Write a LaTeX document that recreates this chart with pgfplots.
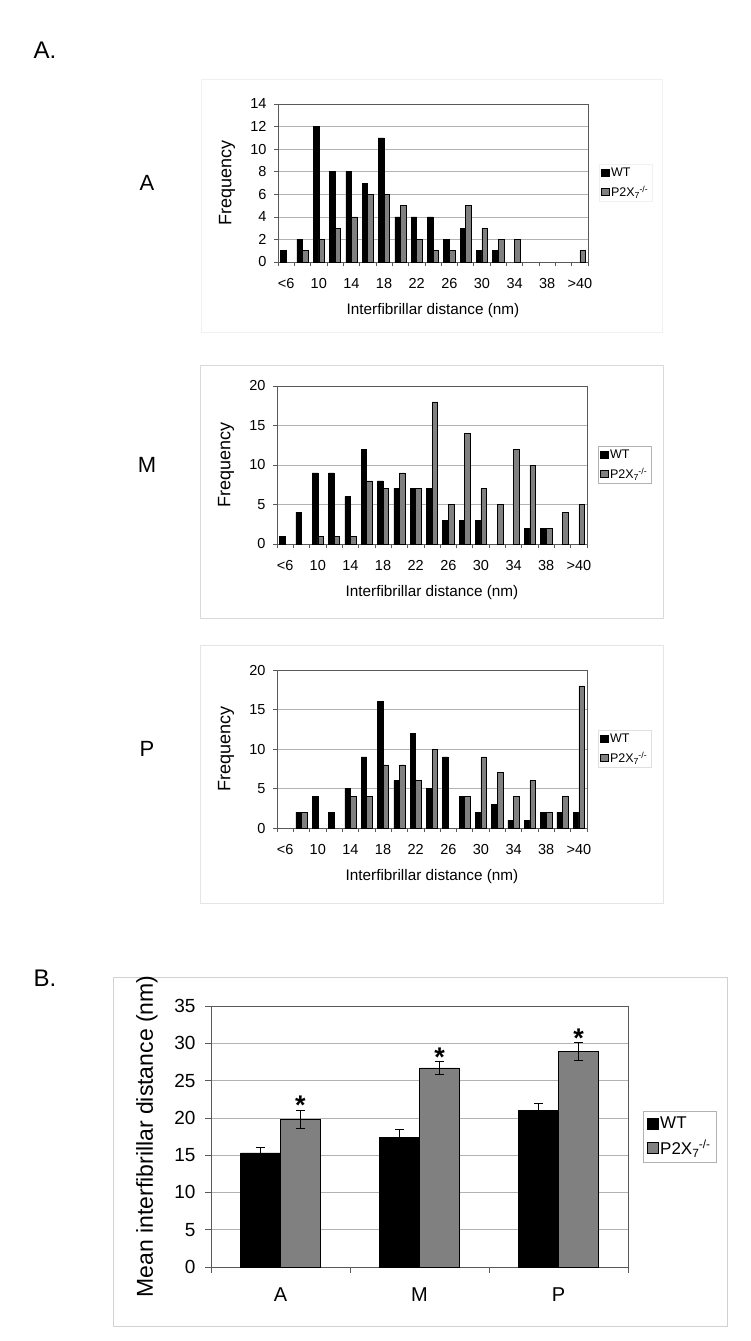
\documentclass[border=0pt]{standalone}
\usepackage{fontspec}
\setmainfont{Liberation Sans}
\usepackage{pgfplots}
\pgfplotsset{compat=1.18}

\newcommand\fs[1]{\fontsize{#1}{#1}\selectfont}
\newcommand\ko{P2X\textsubscript{7}\kern-0.6pt\textsuperscript{-/-}}

\pgfplotsset{
  excel/.style={
    scale only axis, ymin=0,
    /pgf/number format/assume math mode=true,
    axis line style={gray!70!black, line width=0.6pt},
    ymajorgrids, grid style={gray!60, line width=0.6pt},
    tick align=outside, xtick pos=bottom, ytick pos=left,
    major tick style={gray!70!black, line width=0.6pt},
    minor tick style={gray!70!black, line width=0.6pt},
    major x tick style={draw=none},
    legend cell align=left,
  },
  hist/.style={excel,
    width=310pt, height=158pt,
    ybar=0pt, bar width=5.6pt,
    xmin=-0.5, xmax=18.5,
    xtick={0,2,...,18}, xticklabels={<6,10,14,18,22,26,30,34,38,>40},
    minor xtick={-0.5,0.5,...,18.5},
    major tick length=4pt, minor tick length=4pt,
    tick label style={font=\fs{14.5}},
    xticklabel shift=9pt, yticklabel shift=4pt,
    xlabel={Interfibrillar distance (nm)}, ylabel={Frequency},
    every axis x label/.style={at={(axis description cs:0.5,0)}, yshift=-49pt, anchor=center, font=\fs{15.3}},
    every axis y label/.style={at={(axis description cs:0,0.5)}, xshift=-51pt, rotate=90, anchor=center, font=\fs{18}},
    legend style={at={(1,0.5)}, xshift=11pt, anchor=west, font=\fs{12.5},
      inner sep=1.5pt, row sep=4pt},
    legend image code/.code={\draw[#1, line width=0.4pt] (0pt,-3.5pt) rectangle (8pt,3.5pt);},
  },
  wt/.style={fill=black, draw=black, line width=0.5pt},
  ko/.style={fill=gray, draw=black, line width=0.5pt},
}

\begin{document}
\begin{tikzpicture}
\path[use as bounding box] (0pt,0pt) rectangle (750pt,-1341pt);
\fill[white] (0pt,0pt) rectangle (750pt,-1341pt);

% panel frames
\draw[gray!12, line width=0.8pt] (201pt,-79pt) rectangle (662pt,-332pt);
\draw[gray!30, line width=0.8pt] (200pt,-365pt) rectangle (663pt,-618pt);
\draw[gray!20, line width=0.8pt] (200pt,-645pt) rectangle (663pt,-903pt);
\draw[gray!35, line width=0.8pt] (113pt,-977pt) rectangle (727pt,-1326pt);

% panel labels
\node[font=\fs{24}] at (45pt,-50pt) {A.};
\node[font=\fs{24}] at (45pt,-978pt) {B.};
\node[font=\fs{22}] at (147pt,-183pt) {A};
\node[font=\fs{22}] at (147pt,-465pt) {M};
\node[font=\fs{22}] at (147pt,-749pt) {P};

% --- A region histogram
\begin{axis}[hist, at={(278pt,-262pt)}, anchor=south west,
  ymax=14, ytick={0,2,...,14}, legend style={draw=gray!12}]
\addplot[wt] coordinates {(0,1)(1,2)(2,12)(3,8)(4,8)(5,7)(6,11)(7,4)(8,4)(9,4)(10,2)(11,3)(12,1)(13,1)};
\addplot[ko] coordinates {(1,1)(2,2)(3,3)(4,4)(5,6)(6,6)(7,5)(8,2)(9,1)(10,1)(11,5)(12,3)(13,2)(14,2)(18,1)};
\legend{WT,\ko}
\end{axis}

% --- M region histogram
\begin{axis}[hist, at={(277pt,-544pt)}, anchor=south west,
  ymax=20, ytick={0,5,...,20}, legend style={draw=gray!60}]
\addplot[wt] coordinates {(0,1)(1,4)(2,9)(3,9)(4,6)(5,12)(6,8)(7,7)(8,7)(9,7)(10,3)(11,3)(12,3)(15,2)(16,2)};
\addplot[ko] coordinates {(2,1)(3,1)(4,1)(5,8)(6,7)(7,9)(8,7)(9,18)(10,5)(11,14)(12,7)(13,5)(14,12)(15,10)(16,2)(17,4)(18,5)};
\legend{WT,\ko}
\end{axis}

% --- P region histogram
\begin{axis}[hist, at={(277pt,-828pt)}, anchor=south west,
  ymax=20, ytick={0,5,...,20}, legend style={draw=gray!25}]
\addplot[wt] coordinates {(1,2)(2,4)(3,2)(4,5)(5,9)(6,16)(7,6)(8,12)(9,5)(10,9)(11,4)(12,2)(13,3)(14,1)(15,1)(16,2)(17,2)(18,2)};
\addplot[ko] coordinates {(1,2)(4,4)(5,4)(6,8)(7,8)(8,6)(9,10)(11,4)(12,9)(13,7)(14,4)(15,6)(16,2)(17,4)(18,18)};
\legend{WT,\ko}
\end{axis}

% --- B: mean interfibrillar distance
\begin{axis}[excel, at={(211pt,-1267pt)}, anchor=south west,
  width=417pt, height=261pt,
  ymax=35, ytick={0,5,...,35},
  xmin=-0.5, xmax=2.5, xtick={0,1,2}, xticklabels={A,M,P},
  minor xtick={-0.5,0.5,1.5,2.5},
  major tick length=6pt, minor tick length=6pt,
  tick label style={font=\fs{19}},
  xticklabel style={font=\fs{20}},
  xticklabel shift=11pt, yticklabel shift=6pt,
  ybar=0pt, bar width=40pt,
  ylabel={Mean interfibrillar distance (nm)},
  every axis y label/.style={at={(axis description cs:0,0.5)}, xshift=-64pt, rotate=90, anchor=center, font=\fs{23}},
  legend style={at={(1,0.5)}, xshift=15pt, anchor=west, font=\fs{17},
    draw=gray!60, inner sep=3.5pt, row sep=6pt},
  legend image code/.code={\draw[#1, line width=0.5pt] (0pt,-5.5pt) rectangle (11pt,5.5pt);},
  error bars/error bar style={black, line width=0.8pt},
  error bars/error mark options={black, rotate=90, mark size=4.5pt, line width=0.8pt},
]
\addplot[wt, line width=0.8pt, error bars/.cd, y dir=both, y explicit]
  coordinates {(0,15.3) +- (0,0.75) (1,17.4) +- (0,1.0) (2,21.0) +- (0,0.9)};
\addplot[ko, line width=0.8pt, error bars/.cd, y dir=both, y explicit]
  coordinates {(0,19.8) +- (0,1.2) (1,26.7) +- (0,0.85) (2,28.9) +- (0,1.2)};
\legend{WT,\ko}
\node[font=\fs{27}\bfseries, anchor=base] at (axis cs:0,20.4) [xshift=20pt] {*};
\node[font=\fs{27}\bfseries, anchor=base] at (axis cs:1,26.9) [xshift=20pt] {*};
\node[font=\fs{27}\bfseries, anchor=base] at (axis cs:2,29.5) [xshift=20pt] {*};
\end{axis}
\end{tikzpicture}
\end{document}
